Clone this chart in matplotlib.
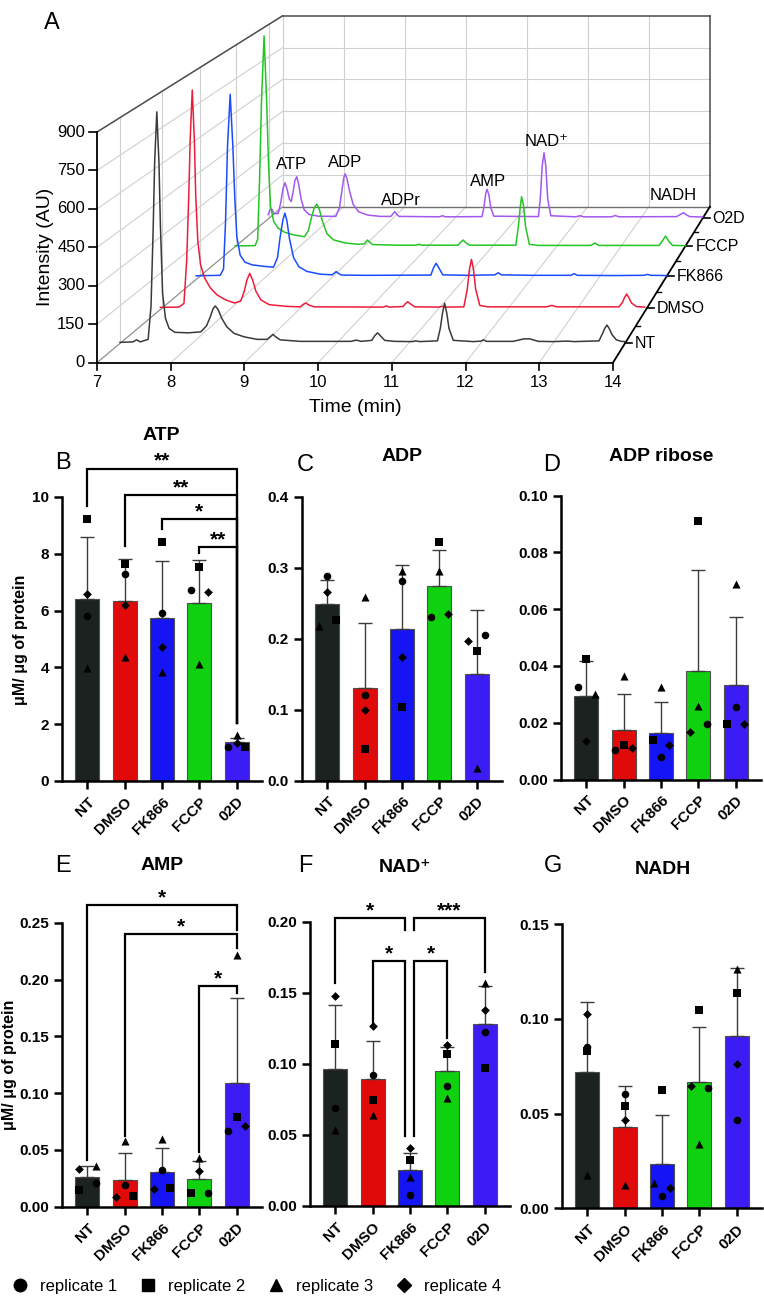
import numpy as np
import matplotlib
matplotlib.use('Agg')
import matplotlib.pyplot as plt
from matplotlib.lines import Line2D

plt.rcParams['font.family'] = ['Liberation Sans', 'DejaVu Sans']

### DATA
groups = ['NT', 'DMSO', 'FK866', 'FCCP', '02D']
traces = ['NT', 'DMSO', 'FK866', 'FCCP', 'O2D']

# chromatogram key points (time in min, intensity AU)
chrom_nt = [(7.00, 4), (7.18, 6), (7.23, 14), (7.28, 6), (7.39, 16), (7.43, 150), (7.46, 460), (7.48, 720),
            (7.51, 923), (7.54, 720), (7.56, 470), (7.59, 200), (7.63, 100), (7.68, 60), (7.76, 44), (7.95, 42),
            (8.12, 46), (8.20, 70), (8.25, 105), (8.29, 138), (8.32, 149), (8.36, 135), (8.41, 100), (8.48, 66),
            (8.58, 40), (8.72, 26), (8.90, 16), (9.04, 16), (9.09, 28), (9.12, 36), (9.15, 28), (9.22, 14),
            (9.5, 8), (10.2, 8), (10.28, 13), (10.34, 8), (10.49, 12), (10.53, 30), (10.57, 42), (10.61, 30),
            (10.67, 12), (10.8, 8), (11.05, 7), (11.1, 10), (11.15, 7), (11.40, 10), (11.44, 60), (11.47, 120),
            (11.50, 160), (11.53, 120), (11.56, 60), (11.62, 12), (11.9, 7), (12.0, 9), (12.04, 14), (12.08, 8),
            (12.45, 8), (12.6, 18), (12.68, 18), (12.8, 8), (13.0, 7), (13.2, 9), (13.3, 7), (13.64, 10),
            (13.69, 40), (13.72, 60), (13.75, 73), (13.78, 60), (13.82, 35), (13.88, 14), (13.95, 8), (14.0, 7)]
chrom_dmso = [(6.98, 4), (7.25, 5), (7.32, 20), (7.36, 200), (7.39, 470), (7.41, 700), (7.44, 906), (7.47, 700),
              (7.49, 470), (7.52, 280), (7.56, 180), (7.62, 125), (7.70, 85), (7.80, 55), (7.92, 35), (8.05, 22),
              (8.14, 30), (8.19, 70), (8.23, 118), (8.27, 145), (8.31, 118), (8.36, 70), (8.43, 35), (8.55, 15),
              (8.8, 8), (9.0, 6), (9.04, 16), (9.08, 22), (9.12, 14), (9.2, 6), (10.2, 5), (10.24, 10), (10.28, 5),
              (10.48, 7), (10.52, 20), (10.55, 27), (10.59, 18), (10.65, 6), (11.0, 5), (11.05, 8), (11.1, 5),
              (11.36, 6), (11.41, 80), (11.44, 160), (11.47, 203), (11.50, 160), (11.53, 80), (11.59, 12),
              (11.7, 6), (12.55, 6), (12.63, 12), (12.7, 6), (13.6, 6), (13.65, 25), (13.68, 45), (13.71, 59),
              (13.74, 45), (13.78, 22), (13.85, 7), (13.97, 5)]
chrom_fk866 = [(6.94, 1), (7.3, 3), (7.35, 30), (7.38, 230), (7.41, 560), (7.45, 784), (7.49, 560), (7.52, 330),
               (7.55, 170), (7.60, 90), (7.67, 60), (7.78, 48), (7.95, 42), (8.10, 38), (8.16, 80), (8.20, 170),
               (8.24, 240), (8.27, 271), (8.30, 240), (8.34, 160), (8.40, 80), (8.48, 40), (8.6, 20), (8.8, 8),
               (8.98, 5), (9.01, 12), (9.04, 19), (9.07, 12), (9.12, 4), (9.5, 3), (10.46, 4), (10.50, 35),
               (10.54, 55), (10.58, 35), (10.64, 5), (11.0, 3), (11.42, 5), (11.47, 14), (11.52, 5), (12.0, 3),
               (12.56, 3), (12.61, 10), (12.66, 3), (13.2, 2), (13.66, 3), (13.71, 7), (13.76, 3), (14.0, 2)]
chrom_fccp = [(6.99, 1), (7.3, 2), (7.34, 30), (7.37, 300), (7.40, 650), (7.44, 941), (7.48, 650), (7.51, 360),
              (7.54, 180), (7.59, 110), (7.66, 80), (7.76, 62), (7.90, 50), (8.07, 42), (8.13, 70), (8.18, 130),
              (8.22, 170), (8.26, 188), (8.30, 165), (8.35, 110), (8.42, 55), (8.52, 28), (8.7, 14), (8.9, 8),
              (9.0, 10), (9.03, 20), (9.05, 27), (9.08, 18), (9.13, 7), (9.5, 4), (9.8, 4), (9.85, 8), (9.9, 4),
              (10.46, 4), (10.50, 17), (10.54, 27), (10.58, 15), (10.64, 4), (11.36, 4), (11.40, 90),
              (11.43, 180), (11.45, 221), (11.48, 180), (11.51, 90), (11.57, 8), (11.7, 3), (12.53, 3),
              (12.59, 14), (12.65, 3), (13.59, 3), (13.64, 22), (13.69, 45), (13.74, 22), (13.8, 3), (14.0, 2)]
chrom_o2d = [(6.99, 18), (7.02, 40), (7.05, 42), (7.08, 22), (7.15, 22), (7.19, 70), (7.23, 140), (7.26, 165),
             (7.29, 140), (7.33, 90), (7.36, 78), (7.39, 120), (7.42, 175), (7.45, 193), (7.48, 160), (7.52, 90),
             (7.57, 40), (7.65, 18), (7.8, 10), (8.08, 9), (8.14, 50), (8.18, 130), (8.21, 190), (8.23, 206),
             (8.26, 185), (8.30, 130), (8.36, 65), (8.45, 30), (8.6, 15), (8.8, 9), (8.97, 9), (9.0, 20),
             (9.03, 31), (9.06, 20), (9.1, 9), (9.75, 7), (9.8, 12), (9.85, 7), (10.44, 8), (10.47, 50),
             (10.50, 115), (10.52, 135), (10.55, 110), (10.58, 50), (10.63, 10), (11.35, 8), (11.38, 90),
             (11.41, 240), (11.44, 304), (11.47, 240), (11.50, 90), (11.55, 12), (11.95, 7), (12.02, 12),
             (12.08, 7), (12.53, 7), (12.59, 13), (12.65, 7), (13.58, 8), (13.63, 16), (13.69, 26), (13.74, 16),
             (13.79, 8), (14.0, 6)]
peak_names = ['ATP', 'ADP', 'ADPr', 'AMP', 'NAD⁺', 'NADH']
peak_label_t = [7.36, 8.23, 9.13, 10.54, 11.49, 13.52]
peak_label_i = [250, 257, 85, 170, 355, 108]

# bar data: mean, SD, replicates (rows = replicate 1..4, columns = groups)
atp_mean = [6.40, 6.35, 5.74, 6.27, 1.36]
atp_sd = [2.19, 1.48, 1.99, 1.50, 0.15]
atp_reps = [[5.80, 7.28, 5.92, 6.73, 1.21],
            [9.24, 7.64, 8.42, 7.54, 1.21],
            [3.98, 4.35, 3.85, 4.12, 1.62],
            [6.58, 6.20, 4.71, 6.65, 1.33]]

adp_mean = [0.249, 0.130, 0.213, 0.274, 0.150]
adp_sd = [0.033, 0.092, 0.091, 0.051, 0.090]
adp_reps = [[0.288, 0.1206, 0.2805, 0.230, 0.2048],
            [0.226, 0.0445, 0.1038, 0.3357, 0.1823],
            [0.217, 0.258, 0.2945, 0.2945, 0.0173],
            [0.2655, 0.0996, 0.1744, 0.2347, 0.1964]]

adpr_mean = [0.0294, 0.0173, 0.0164, 0.0381, 0.0332]
adpr_sd = [0.0124, 0.0128, 0.0109, 0.0357, 0.0239]
adpr_reps = [[0.0324, 0.0105, 0.0079, 0.0194, 0.0255],
             [0.0426, 0.0120, 0.0140, 0.0911, 0.0194],
             [0.0300, 0.0364, 0.0326, 0.0260, 0.0688],
             [0.0134, 0.0112, 0.0122, 0.0167, 0.0194]]

amp_mean = [0.026, 0.0236, 0.0303, 0.0244, 0.109]
amp_sd = [0.010, 0.0235, 0.0212, 0.0159, 0.075]
amp_reps = [[0.0212, 0.0189, 0.0324, 0.0124, 0.0662],
            [0.0147, 0.0094, 0.0168, 0.0124, 0.0789],
            [0.0360, 0.0574, 0.0595, 0.0427, 0.2212],
            [0.0333, 0.0088, 0.0156, 0.0318, 0.0706]]

nad_mean = [0.096, 0.089, 0.0251, 0.095, 0.128]
nad_sd = [0.045, 0.027, 0.012, 0.017, 0.027]
nad_reps = [[0.0686, 0.092, 0.0075, 0.0843, 0.122],
            [0.114, 0.0744, 0.0322, 0.107, 0.097],
            [0.0533, 0.0639, 0.0204, 0.0756, 0.1566],
            [0.148, 0.1265, 0.0404, 0.113, 0.1378]]

nadh_mean = [0.072, 0.043, 0.0232, 0.0666, 0.091]
nadh_sd = [0.037, 0.0214, 0.0263, 0.029, 0.036]
nadh_reps = [[0.085, 0.0605, 0.0066, 0.0637, 0.0468],
             [0.083, 0.0538, 0.0623, 0.1047, 0.1135],
             [0.0175, 0.0123, 0.0135, 0.0342, 0.1266],
             [0.1026, 0.0465, 0.0108, 0.0644, 0.076]]

### STYLE / LAYOUT
W, H = 764, 1302
fig = plt.figure(figsize=(W / 100, H / 100), dpi=100)

def ftext(x, y, s, **kw):
    fig.text(x / W, 1 - y / H, s, **kw)

# ---------- panel A: pseudo-3D chromatogram ----------
VPX, VPY = 1176.0, -543.7
X0, PX_MIN = 97.0, 73.71
Y0, PX_AU = 362.7, 0.2563
SHRINK = 0.172

def proj(t, d, i):
    s = 1 - SHRINK * np.asarray(d, float)
    xf = X0 + (np.asarray(t, float) - 7) * PX_MIN
    yf = Y0 - np.asarray(i, float) * PX_AU
    return VPX + (xf - VPX) * s, VPY + (yf - VPY) * s

axA = fig.add_axes([0, 1 - 430 / H, 1, 430 / H])
axA.set_xlim(0, W)
axA.set_ylim(430, 0)
axA.axis('off')

GRID = '#d0d0d0'
depths = [0.124, 0.349, 0.556, 0.748, 0.926]
tcols = ['#3a3a3a', '#ee1c3a', '#1a4cff', '#25c425', '#a259f0']

def seg(p, q, **kw):
    x, y = proj([p[0], q[0]], [p[1], q[1]], [p[2], q[2]])
    axA.plot(x, y, **kw)

for lev in range(150, 900, 150):
    seg((7, 1, lev), (14, 1, lev), color=GRID, lw=0.8)
    seg((7, 0, lev), (7, 1, lev), color=GRID, lw=0.8)
for t in range(8, 14):
    seg((t, 1, 0), (t, 1, 900), color=GRID, lw=0.8)
    seg((t, 0, 0), (t, 1, 0), color=GRID, lw=0.8)
for d in depths:
    seg((7, d, 0), (7, d, 900), color=GRID, lw=0.8)
seg((7, 1, 0), (7, 1, 900), color=GRID, lw=0.8)
seg((7, 0, 0), (7, 1, 0), color='#909090', lw=0.9)
seg((7, 1, 0), (14, 1, 0), color='#707070', lw=1.0)
frame = dict(color='#4a4a4a', lw=1.1)
seg((7, 0, 900), (7, 1, 900), **frame)
seg((7, 1, 900), (14, 1, 900), **frame)
seg((14, 1, 900), (14, 1, 0), **frame)
seg((14, 0, 0), (14, 1, 0), color='black', lw=1.3)
seg((7, 0, 0), (14, 0, 0), color='black', lw=1.3)
seg((7, 0, 0), (7, 0, 900), color='black', lw=1.3)

for t in range(7, 15):
    x, y = proj(t, 0, 0)
    axA.plot([x, x], [y, y + 7], color='black', lw=1.2)
    axA.text(x, y + 20, str(t), ha='center', va='center', fontsize=12)
for lev in range(0, 901, 150):
    x, y = proj(7, 0, lev)
    axA.plot([x - 8, x], [y, y], color='black', lw=1.2)
    axA.text(x - 12, y, str(lev), ha='right', va='center', fontsize=12)
for k, d in enumerate(depths):
    x, y = proj(14, d, 0)
    axA.plot([x, x + 7], [y, y], color='black', lw=1.2)
    axA.text(x + 10, y, traces[k], ha='left', va='center', fontsize=11.5)
    if k < 4:
        xm, ym = proj(14, (d + depths[k + 1]) / 2, 0)
        axA.plot([xm, xm + 4], [ym, ym], color='black', lw=1.0)

chroms = [chrom_nt, chrom_dmso, chrom_fk866, chrom_fccp, chrom_o2d]
for k in range(4, -1, -1):
    t, i = np.array(chroms[k]).T
    x, y = proj(t, depths[k], i)
    axA.plot(x, y, color=tcols[k], lw=1.1, solid_joinstyle='round')

for name, t, i in zip(peak_names, peak_label_t, peak_label_i):
    x, y = proj(t, depths[4], i)
    axA.text(x, y, name, ha='center', va='center', fontsize=12)

ftext(355, 408, 'Time (min)', ha='center', va='center', fontsize=14)
ftext(45, 247, 'Intensity (AU)', ha='center', va='center', rotation=90, fontsize=14)
ftext(52, 23, 'A', ha='center', va='center', fontsize=17)

# ---------- bar panels ----------
BAR_COLORS = ['#1c2220', '#e00a0a', '#1414f5', '#0fd10f', '#3c1cf5']
MARKERS = ['o', 's', '^', 'D']
MSIZES = [30, 28, 34, 20]
J = 0.22

def bar_panel(left, bottom, ymax, yticks, fmt, means, sds, reps, jit, brackets=()):
    ax = fig.add_axes([left / W, 1 - bottom / H, 200 / W, 284 / H])
    x = np.arange(5)
    ax.bar(x, means, width=0.64, color=BAR_COLORS, edgecolor='#505050', linewidth=0.8, zorder=2)
    ax.errorbar(x, means, yerr=[np.zeros(5), sds], fmt='none', ecolor='#3c3c3c',
                elinewidth=1.0, capsize=4.7, capthick=1.0, zorder=3)
    for r in range(4):
        ax.scatter(x + np.array(jit[r]) * J, reps[r], marker=MARKERS[r], s=MSIZES[r],
                   color='black', linewidths=0, zorder=4, clip_on=False)
    ax.set_xlim(-0.68, 4.68)
    ax.set_ylim(0, ymax)
    ax.set_yticks(yticks)
    ax.set_yticklabels([fmt.format(v) for v in yticks], fontweight='bold', fontsize=11)
    ax.set_xticks(x)
    ax.set_xticklabels(groups, rotation=45, ha='right', va='top', rotation_mode='anchor',
                       fontweight='bold', fontsize=11)
    for sp in ['top', 'right']:
        ax.spines[sp].set_visible(False)
    for sp in ['left', 'bottom']:
        ax.spines[sp].set_linewidth(1.8)
    ax.tick_params(width=1.8, length=6)
    ax.tick_params(axis='x', pad=4)
    for x1, x2, yb, b1, b2, stars in brackets:
        ax.plot([x1, x1, x2, x2], [b1, yb, yb, b2], color='black', lw=1.6, clip_on=False,
                solid_joinstyle='miter')
        ax.annotate(stars, xy=((x1 + x2) / 2, yb), xytext=(0, 1.5), textcoords='offset points',
                    ha='center', va='baseline', fontsize=15, fontweight='bold', annotation_clip=False)
    return ax

zero = [0, 0, 0, 0, 0]
jit_b = [[0, 0, 0, -1, -1], [0, 0, 0, 0, 1], zero, [0, 0, 0, 1, 0]]
jit_c = [[0, 0, 0, -1, 1], [1, 0, 0, 0, 0], [-1, 0, 0, 0, 0], [0, 0, 0, 1, -1]]
jit_d = [[-1, -1, 0, 1, 0], [0, 0, -1, 0, -1], [1, 0, 0, 0, 0], [0, 1, 1, -1, 1]]
jit_e = [[1, 0, 0, 1, -1], [-1, 1, 1, -1, 0], [1, 0, 0, 0, 0], [-1, -1, -1, 0, 1]]
jit_f = [zero, zero, zero, zero]
jit_g = [[0, 0, 0, 1, 0], zero, [0, 0, -1, 0, 0], [0, 0, 1, -1, 0]]

bar_panel(62, 781, 10, [0, 2, 4, 6, 8, 10], '{:.0f}', atp_mean, atp_sd, atp_reps, jit_b,
          [(0, 4, 11.0, 9.69, 2.05, '**'), (1, 4, 10.07, 8.27, 2.05, '**'),
           (2, 4, 9.22, 8.87, 2.05, '*'), (3, 4, 8.24, 8.04, 2.05, '**')])
bar_panel(302, 780.5, 0.4, [0, 0.1, 0.2, 0.3, 0.4], '{:.1f}', adp_mean, adp_sd, adp_reps, jit_c)
bar_panel(561, 779.5, 0.10, [0, 0.02, 0.04, 0.06, 0.08, 0.10], '{:.2f}', adpr_mean, adpr_sd, adpr_reps, jit_d)
bar_panel(62, 1206.7, 0.25, [0, 0.05, 0.10, 0.15, 0.20, 0.25], '{:.2f}', amp_mean, amp_sd, amp_reps, jit_e,
          [(0, 4, 0.2653, 0.041, 0.244, '*'), (1, 4, 0.2397, 0.062, 0.228, '*'),
           (3, 4, 0.194, 0.048, 0.188, '*')])
bar_panel(310, 1205.7, 0.20, [0, 0.05, 0.10, 0.15, 0.20], '{:.2f}', nad_mean, nad_sd, nad_reps, jit_f,
          [(0, 1.86, 0.2024, 0.1566, 0.194, '*'), (2.12, 4, 0.2024, 0.194, 0.1648, '***'),
           (1, 1.86, 0.1723, 0.128, 0.049, '*'), (2.12, 3, 0.1723, 0.049, 0.118, '*')])
bar_panel(562, 1208.3, 0.15, [0, 0.05, 0.10, 0.15], '{:.2f}', nadh_mean, nadh_sd, nadh_reps, jit_g)

titles = [('ATP', 161.7, 435), ('ADP', 401.7, 457), ('ADP ribose', 661, 457),
          ('AMP', 161.7, 866), ('NAD⁺', 405, 868), ('NADH', 663, 870)]
for s, x, y in titles:
    ftext(x, y, s, ha='center', va='center', fontsize=14, fontweight='bold')
letters = [('B', 63, 463), ('C', 305, 465), ('D', 552, 465), ('E', 63, 866), ('F', 305, 866), ('G', 553, 866)]
for s, x, y in letters:
    ftext(x, y, s, ha='center', va='center', fontsize=17)
ftext(21, 640, 'μM/ μg of protein', ha='center', va='center', rotation=90, fontsize=11.5, fontweight='bold')
ftext(10, 1065, 'μM/ μg of protein', ha='center', va='center', rotation=90, fontsize=11.5, fontweight='bold')

handles = [Line2D([], [], marker=m, color='black', linestyle='none', markersize=ms)
           for m, ms in zip(MARKERS, [9, 8.5, 9, 7.5])]
fig.legend(handles, ['replicate 1', 'replicate 2', 'replicate 3', 'replicate 4'],
           loc='center left', bbox_to_anchor=(-0.006, 1 - 1286 / H), ncol=4, frameon=False,
           fontsize=12, handletextpad=0.6, columnspacing=1.25, handlelength=1.2)

fig.savefig('out.png', dpi=100)
